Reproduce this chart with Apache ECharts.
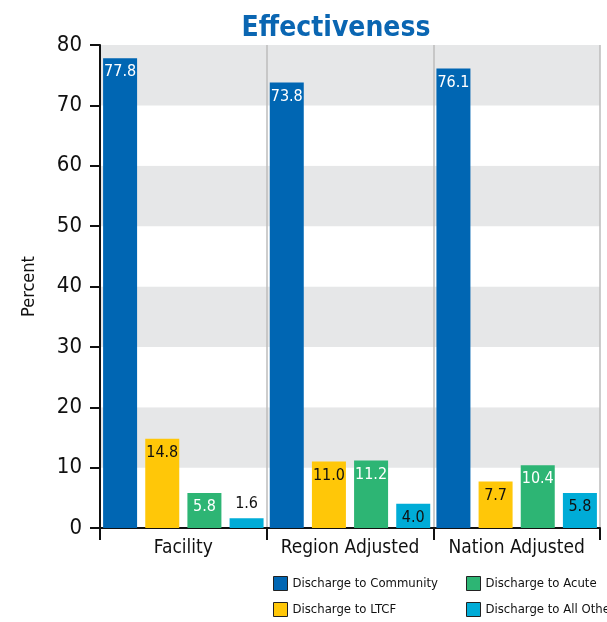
<!DOCTYPE html>
<html>
<head>
<meta charset="utf-8">
<script src="https://cdn.jsdelivr.net/npm/echarts@6/dist/echarts.min.js"></script>
<style>
  html, body { margin: 0; padding: 0; background: #fff; }
  #chart { width: 607px; height: 622px; }
</style>
</head>
<body>
<div id="chart"></div>
<script>
var categories = ['Facility', 'Region Adjusted', 'Nation Adjusted']
var community = [77.8, 73.8, 76.1]
var ltcf = [14.8, 11.0, 7.7]
var acute = [5.8, 11.2, 10.4]
var allOther = [1.6, 4.0, 5.8]
var yTicks = [0, 10, 20, 30, 40, 50, 60, 70, 80]

var FONT = '"Liberation Sans Narrow", "DejaVu Sans Condensed", sans-serif'

// small bars get their label above the bar
const toData = arr => arr.map(v => {
  if (v < 3) {
    return { value: v, label: { position: 'top', color: '#111' } }
  }
  return { value: v }
})

const makeSeries = (name, arr, color, textColor) => ({
  name: name,
  type: 'bar',
  barWidth: 34,
  barGap: '24%',
  data: toData(arr),
  itemStyle: { color: color },
  label: {
    show: true,
    position: 'insideTop',
    distance: 6,
    color: textColor,
    fontFamily: FONT,
    fontSize: 16,
    formatter: p => p.value.toFixed(1)
  }
})

const legendBase = (names, left) => ({
  data: names,
  orient: 'vertical',
  left: left,
  top: 571,
  height: 60,
  itemWidth: 14,
  itemHeight: 14,
  itemGap: 11,
  icon: 'rect',
  itemStyle: { borderColor: '#222', borderWidth: 1 },
  textStyle: { fontFamily: FONT, fontSize: 13, color: '#111' }
})

var chart = echarts.init(document.getElementById('chart'))
chart.setOption({
  animation: false,
  title: {
    text: 'Effectiveness',
    left: 331,
    top: 10,
    textAlign: 'center',
    textStyle: { color: '#0a66b2', fontFamily: FONT, fontSize: 28, fontWeight: 'bold' }
  },
  legend: [
    legendBase(['Discharge to Community', 'Discharge to LTCF'], 268),
    legendBase(['Discharge to Acute', 'Discharge to All Other'], 461)
  ],
  grid: { left: 100, right: 7, top: 45, bottom: 94, containLabel: false },
  xAxis: {
    type: 'category',
    data: categories,
    axisLine: { lineStyle: { color: '#111', width: 2 } },
    axisTick: { show: true, interval: 0, length: 12, lineStyle: { color: '#111', width: 2 } },
    splitLine: { show: true, interval: 0, lineStyle: { color: '#bdbdbd', width: 1.5 } },
    axisLabel: { interval: 0, color: '#111', fontFamily: FONT, fontSize: 19, margin: 11 }
  },
  yAxis: {
    type: 'value',
    min: 0,
    max: 80,
    interval: 10,
    name: 'Percent',
    nameLocation: 'middle',
    nameRotate: 90,
    nameGap: 62,
    nameTextStyle: { color: '#111', fontFamily: FONT, fontSize: 18 },
    axisLine: { show: true, lineStyle: { color: '#111', width: 2 } },
    axisTick: { show: true, length: 10, lineStyle: { color: '#111', width: 2 } },
    splitLine: { show: false },
    splitArea: { show: true, areaStyle: { color: ['#ffffff', '#e6e7e8'] } },
    axisLabel: {
      color: '#111', fontFamily: FONT, fontSize: 22, margin: 18,
      formatter: v => yTicks.indexOf(v) >= 0 ? String(v) : ''
    }
  },
  series: [
    makeSeries('Discharge to Community', community, '#0066b3', '#ffffff'),
    makeSeries('Discharge to LTCF', ltcf, '#ffc708', '#111111'),
    makeSeries('Discharge to Acute', acute, '#2db574', '#ffffff'),
    makeSeries('Discharge to All Other', allOther, '#00acd7', '#111111')
  ]
})
</script>
</body>
</html>
